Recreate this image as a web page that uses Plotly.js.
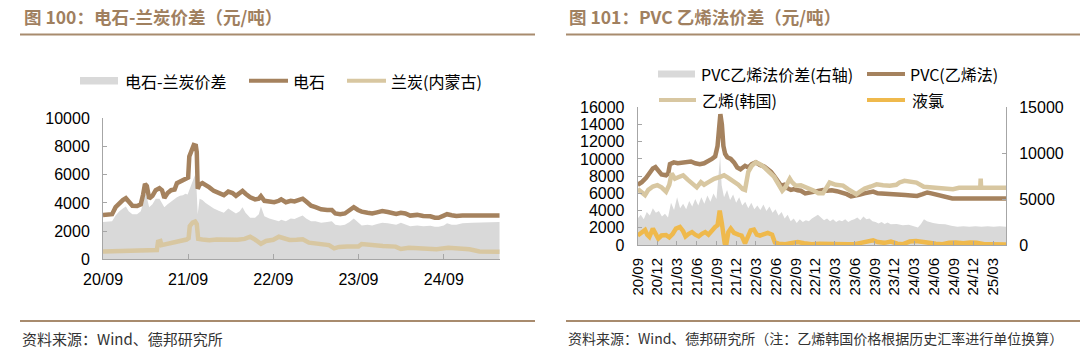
<!DOCTYPE html>
<html>
<head>
<meta charset="utf-8">
<script src="https://cdn.plot.ly/plotly-3.0.1.min.js"></script>
<style>html,body{margin:0;padding:0;background:#fff;}#chart{width:1080px;height:356px;}</style>
</head>
<body>
<div id="chart"></div>
<script>
// ---------- Left chart: 电石-兰炭价差 ----------
const carbideDates = ['2020-09-01','2020-09-20','2020-10-10','2020-10-25','2020-11-10','2020-11-25','2020-12-08','2020-12-20','2021-01-05','2021-01-25','2021-02-10','2021-02-20','2021-02-28','2021-03-08','2021-03-18','2021-04-01','2021-04-15','2021-05-01','2021-05-12','2021-05-22','2021-06-05','2021-06-20','2021-07-05','2021-07-15','2021-07-28','2021-08-10','2021-08-20','2021-09-01','2021-09-06','2021-09-18','2021-09-25','2021-10-04','2021-10-08','2021-10-12','2021-10-20','2021-11-01','2021-11-15','2021-12-01','2021-12-20','2022-01-10','2022-02-01','2022-02-20','2022-03-10','2022-03-25','2022-04-10','2022-04-22','2022-05-05','2022-05-25','2022-06-15','2022-07-01','2022-07-10','2022-07-25','2022-08-15','2022-09-05','2022-09-25','2022-10-05','2022-10-25','2022-11-15','2022-12-01','2022-12-20','2023-01-05','2023-01-20','2023-02-10','2023-03-01','2023-03-25','2023-04-20','2023-05-10','2023-05-25','2023-06-15','2023-07-05','2023-07-25','2023-08-12','2023-08-30','2023-09-15','2023-10-10','2023-10-30','2023-11-20','2023-12-12','2024-01-05','2024-01-25','2024-02-10','2024-03-01','2024-03-20','2024-04-10','2024-05-10','2024-06-05','2024-07-05','2024-07-25','2024-08-10','2024-09-01','2024-09-15','2024-10-05','2024-10-25','2024-11-20','2025-01-01','2025-03-01','2025-04-28'];
const carbideValues = [3150,3150,3200,3700,4000,4200,4330,4100,3800,3780,3900,4600,5350,5200,4300,4500,4900,5050,4900,4350,4700,4900,4950,5400,5500,5650,5700,5800,7300,7700,8100,8050,7600,5000,5300,5400,5300,5100,4850,4700,4550,4800,4700,4500,4650,4850,4650,4400,4250,4300,4480,4150,4100,4050,4150,4250,4050,4150,4100,4200,4300,4100,3800,3700,3550,3500,3500,3250,3200,3250,3450,3700,3500,3380,3300,3250,3330,3420,3350,3300,3220,3300,3250,3100,3150,3070,3050,2950,2950,3100,3200,3130,3070,3100,3100,3100,3100];

const cokeDates = ['2020-09-01','2020-10-15','2020-12-01','2021-01-15','2021-03-01','2021-04-10','2021-04-20','2021-04-25','2021-05-05','2021-05-10','2021-05-25','2021-06-15','2021-07-10','2021-08-01','2021-08-25','2021-09-03','2021-09-08','2021-09-20','2021-10-01','2021-10-08','2021-10-14','2021-11-01','2021-12-01','2022-01-01','2022-02-15','2022-04-01','2022-05-01','2022-05-25','2022-06-15','2022-07-10','2022-08-01','2022-09-01','2022-09-25','2022-10-20','2022-11-10','2022-12-10','2023-01-05','2023-02-01','2023-03-10','2023-04-28','2023-05-20','2023-06-10','2023-07-15','2023-09-01','2023-09-15','2023-10-20','2023-12-15','2024-02-07','2024-03-01','2024-04-05','2024-06-01','2024-08-01','2024-09-20','2024-11-01','2024-12-20','2025-02-01','2025-04-28'];
const cokeValues = [560,580,600,610,620,650,660,1250,1300,1000,1050,1100,1200,1250,1400,1500,2350,2600,2680,2500,1450,1400,1350,1400,1370,1380,1450,1600,1400,1100,1300,1380,1600,1500,1370,1380,1420,1180,1100,1010,780,880,900,900,1080,1000,950,900,730,820,800,710,820,780,710,560,540];

const spreadLDates = ['2020-09-01','2020-09-20','2020-10-10','2020-10-25','2020-11-10','2020-11-25','2020-12-08','2020-12-20','2021-01-05','2021-01-25','2021-02-10','2021-02-20','2021-02-28','2021-03-08','2021-03-18','2021-04-01','2021-04-15','2021-05-01','2021-05-12','2021-05-22','2021-06-05','2021-06-20','2021-07-05','2021-07-15','2021-07-28','2021-08-10','2021-08-20','2021-08-30','2021-09-08','2021-09-15','2021-09-22','2021-10-01','2021-10-06','2021-10-12','2021-10-20','2021-11-01','2021-11-15','2021-12-01','2021-12-20','2022-01-10','2022-02-01','2022-02-20','2022-03-10','2022-03-25','2022-04-10','2022-04-22','2022-05-05','2022-05-25','2022-06-15','2022-07-01','2022-07-10','2022-07-25','2022-08-15','2022-09-05','2022-09-25','2022-10-05','2022-10-25','2022-11-15','2022-12-01','2022-12-20','2023-01-05','2023-01-20','2023-02-10','2023-03-01','2023-03-25','2023-04-20','2023-05-10','2023-05-25','2023-06-15','2023-07-05','2023-07-25','2023-08-12','2023-08-30','2023-09-15','2023-10-10','2023-10-30','2023-11-20','2023-12-12','2024-01-05','2024-01-25','2024-02-10','2024-03-01','2024-03-20','2024-04-10','2024-05-10','2024-06-05','2024-07-05','2024-07-25','2024-08-10','2024-09-01','2024-09-15','2024-10-05','2024-10-25','2024-11-20','2025-01-01','2025-03-01','2025-04-28'];
const spreadLValues = [2650,2700,2700,3100,3400,3600,3750,3400,3200,3200,3400,4000,4700,4400,3700,3900,4300,4300,4000,3700,3900,4100,4300,4400,4500,4550,4650,4600,5000,5300,5600,6000,5400,3200,4300,4200,4000,3800,3600,3450,3300,3600,3400,3250,3400,3700,3300,2950,2950,3200,3750,3050,2900,2800,2700,2800,2700,2900,2850,3000,3100,2900,2700,2700,2600,2650,2700,2450,2400,2450,2650,2900,2600,2400,2450,2400,2500,2600,2550,2500,2450,2600,2500,2350,2400,2350,2380,2300,2300,2400,2550,2450,2450,2550,2600,2650,2650];

const leftTickVals = ['2020-09-01','2021-09-01','2022-09-01','2023-09-01','2024-09-01'];
const leftTickText = ['20/09','21/09','22/09','23/09','24/09'];

// ---------- Right chart: PVC 乙烯法价差 ----------
const pvcDates = ['2020-09-01','2020-09-20','2020-10-10','2020-10-25','2020-11-10','2020-11-22','2020-12-05','2020-12-20','2021-01-10','2021-01-20','2021-01-28','2021-02-15','2021-03-05','2021-03-25','2021-04-15','2021-05-05','2021-05-25','2021-06-15','2021-07-05','2021-07-25','2021-08-10','2021-08-25','2021-09-05','2021-09-12','2021-09-18','2021-09-25','2021-10-02','2021-10-10','2021-10-20','2021-11-05','2021-11-20','2021-12-05','2021-12-20','2022-01-10','2022-01-25','2022-02-10','2022-03-01','2022-03-20','2022-04-10','2022-04-25','2022-05-10','2022-05-25','2022-06-10','2022-06-25','2022-07-10','2022-07-25','2022-08-10','2022-08-25','2022-09-10','2022-09-25','2022-10-15','2022-11-05','2022-11-25','2022-12-15','2023-01-05','2023-01-25','2023-02-15','2023-03-10','2023-04-05','2023-04-25','2023-05-15','2023-06-05','2023-06-25','2023-07-15','2023-08-05','2023-08-25','2023-09-15','2023-10-05','2023-10-30','2023-11-25','2023-12-20','2024-01-20','2024-02-15','2024-03-15','2024-04-10','2024-05-01','2024-05-20','2024-06-15','2024-07-10','2024-07-30','2024-08-25','2024-10-01','2024-12-01','2025-02-01','2025-04-30'];
const pvcValues = [7000,7300,7800,8400,8900,9050,8700,8200,8100,8300,9400,9600,9500,9550,9600,9700,9500,9400,9500,9700,10000,10300,11500,13500,15200,14000,11500,10600,10200,10000,9600,9000,8800,9200,9000,9400,9600,9300,9100,8800,8500,8000,7300,6900,7000,6600,6400,6500,6350,6300,6000,6100,6200,6250,6400,6300,6350,6250,6100,5900,5650,5700,5850,6000,6150,6200,6000,5950,5900,5850,5800,5800,5750,5700,5900,6100,6000,5850,5650,5500,5400,5400,5400,5400,5400];

const ethyDates = ['2020-09-01','2020-09-15','2020-10-05','2020-10-20','2020-11-10','2020-12-01','2020-12-20','2021-01-10','2021-01-25','2021-02-05','2021-02-20','2021-03-10','2021-03-30','2021-04-20','2021-05-10','2021-06-01','2021-06-20','2021-07-05','2021-07-25','2021-08-20','2021-09-15','2021-10-05','2021-10-25','2021-11-15','2021-12-10','2021-12-30','2022-01-10','2022-01-25','2022-02-10','2022-03-01','2022-03-20','2022-04-10','2022-05-01','2022-05-25','2022-06-15','2022-07-01','2022-07-15','2022-08-05','2022-08-15','2022-09-01','2022-09-25','2022-10-20','2022-11-05','2022-11-25','2022-12-15','2023-01-05','2023-01-20','2023-02-05','2023-03-05','2023-04-08','2023-05-01','2023-05-17','2023-06-08','2023-06-25','2023-07-17','2023-08-15','2023-09-10','2023-10-10','2023-11-10','2023-12-10','2023-12-25','2024-01-17','2024-02-15','2024-03-12','2024-04-15','2024-05-15','2024-06-12','2024-07-20','2024-08-28','2024-09-25','2024-11-01','2024-12-15','2025-01-01','2025-01-03','2025-01-05','2025-03-01','2025-04-30'];
const ethyValues = [6500,6200,5800,6400,6800,6950,6700,6200,7000,8300,7700,7900,8100,7600,7200,6700,7300,7000,7300,7700,7900,8100,7800,7500,7000,6500,6400,8500,9200,9600,9400,9000,8500,7900,7000,6300,6700,7700,7300,6900,6950,6700,6600,6300,6000,6000,6600,7250,7000,6900,6500,6200,5900,6200,6550,6800,7050,6950,6880,7000,7270,7460,7300,7250,6760,6700,6640,6600,6490,6640,6600,6640,6640,7700,6640,6640,6640];

const chlorDates = ['2020-09-01','2020-09-20','2020-10-05','2020-10-15','2020-10-25','2020-11-10','2020-11-20','2020-12-05','2020-12-20','2021-01-10','2021-01-25','2021-02-10','2021-02-25','2021-03-15','2021-03-30','2021-04-10','2021-04-25','2021-05-10','2021-05-25','2021-06-10','2021-06-25','2021-07-10','2021-07-25','2021-08-10','2021-08-25','2021-09-05','2021-09-15','2021-09-25','2021-10-02','2021-10-08','2021-10-15','2021-10-25','2021-11-05','2021-11-20','2021-12-10','2021-12-25','2022-01-10','2022-01-20','2022-02-05','2022-02-20','2022-03-05','2022-03-20','2022-04-10','2022-04-25','2022-05-15','2022-05-28','2022-06-15','2022-07-15','2022-08-15','2022-09-10','2022-10-10','2022-11-15','2022-12-20','2023-02-01','2023-03-15','2023-05-01','2023-06-01','2023-07-01','2023-08-01','2023-08-25','2023-09-15','2023-10-15','2023-11-15','2023-12-15','2024-01-10','2024-02-10','2024-03-10','2024-04-10','2024-05-10','2024-06-10','2024-07-10','2024-08-10','2024-09-10','2024-10-15','2024-11-15','2024-12-15','2025-01-20','2025-03-01','2025-04-30'];
const chlorValues = [1100,1500,1750,1200,950,1900,1500,750,1100,1150,900,1300,1900,2100,1600,1000,1300,1500,1200,1000,1300,1500,1200,1700,2100,2300,4000,2500,1500,200,0,1500,1900,1400,1200,1100,200,900,1700,1800,1200,1100,1200,1400,1200,300,150,100,250,350,200,100,150,100,100,80,100,250,400,550,350,250,400,150,100,400,450,400,250,150,100,250,300,200,300,250,100,100,50];

const spreadRDates = ['2020-09-01','2020-09-15','2020-09-29','2020-10-13','2020-10-27','2020-11-10','2020-11-24','2020-12-08','2020-12-22','2021-01-05','2021-01-19','2021-02-02','2021-02-16','2021-03-02','2021-03-16','2021-03-30','2021-04-13','2021-04-27','2021-05-11','2021-05-25','2021-06-08','2021-06-22','2021-07-06','2021-07-20','2021-08-03','2021-08-17','2021-08-31','2021-09-10','2021-09-17','2021-09-24','2021-10-05','2021-10-19','2021-11-02','2021-11-16','2021-11-30','2021-12-14','2021-12-28','2022-01-11','2022-01-25','2022-02-08','2022-02-22','2022-03-08','2022-03-22','2022-04-05','2022-04-19','2022-05-03','2022-05-17','2022-05-31','2022-06-14','2022-06-28','2022-07-12','2022-07-26','2022-08-09','2022-08-23','2022-09-06','2022-09-20','2022-10-04','2022-10-18','2022-11-01','2022-11-15','2022-11-29','2022-12-13','2022-12-27','2023-01-10','2023-01-24','2023-02-07','2023-02-21','2023-03-07','2023-03-21','2023-04-04','2023-04-18','2023-05-02','2023-05-16','2023-05-30','2023-06-13','2023-06-27','2023-07-11','2023-07-25','2023-08-08','2023-08-22','2023-09-05','2023-09-19','2023-10-03','2023-10-17','2023-10-31','2023-11-14','2023-12-12','2024-01-09','2024-02-06','2024-03-05','2024-03-19','2024-04-02','2024-04-16','2024-04-30','2024-05-14','2024-05-28','2024-06-25','2024-07-23','2024-08-20','2024-09-17','2024-10-15','2024-11-12','2024-12-10','2025-01-07','2025-02-04','2025-03-04','2025-04-01','2025-04-30'];
const spreadRValues = [2900,3300,2800,3600,3200,4000,3500,3700,3100,3400,3000,4600,3800,5200,4000,4500,3900,4800,4200,5000,4300,5200,4500,5400,4700,5600,5000,7500,9700,6500,5200,6000,4900,5500,4600,5200,4300,4700,4000,4600,3900,4300,3800,4400,3700,4200,3500,3900,3200,3600,2900,3300,2600,2900,2400,2800,2500,2700,2600,2900,3100,3300,3000,2700,2900,2600,2800,2500,2700,2600,2800,2500,2700,2800,3000,2700,3100,2800,2900,2600,2500,2350,2500,2300,2450,2250,2300,2150,2200,2050,1900,2300,2800,2600,2500,2400,2300,2250,2100,2000,2050,2000,2050,2000,2050,2000,2050,2000];

// ---------- Style ----------
const BROWN = '#a5825e', TAN = '#d8c7a1', GOLD = '#efb94c', GRAY = '#d9d9d9';
const AXIS = '#a6a6a6', RULE = '#a88b6e', TITLE = '#a0805f';
const NUM = 'Liberation Sans, Arial, sans-serif';
const CJK = 'Noto Sans CJK SC, sans-serif';
const W = 1080, H = 356;
const px = x => x / W, py = y => 1 - y / H;

const traces = [
  {x: spreadLDates, y: spreadLValues, type: 'scatter', mode: 'lines', fill: 'tozeroy', fillcolor: GRAY, line: {width: 0, color: GRAY}, xaxis: 'x', yaxis: 'y', name: '电石-兰炭价差', showlegend: false},
  {x: carbideDates, y: carbideValues, type: 'scatter', mode: 'lines', line: {width: 4.5, color: BROWN}, xaxis: 'x', yaxis: 'y', name: '电石', showlegend: false},
  {x: cokeDates, y: cokeValues, type: 'scatter', mode: 'lines', line: {width: 4.5, color: TAN}, xaxis: 'x', yaxis: 'y', name: '兰炭(内蒙古)', showlegend: false},
  {x: spreadRDates, y: spreadRValues, type: 'scatter', mode: 'lines', fill: 'tozeroy', fillcolor: GRAY, line: {width: 0, color: GRAY}, xaxis: 'x2', yaxis: 'y2', name: 'PVC乙烯法价差(右轴)', showlegend: false},
  {x: pvcDates, y: pvcValues, type: 'scatter', mode: 'lines', line: {width: 4.5, color: BROWN}, xaxis: 'x2', yaxis: 'y3', name: 'PVC(乙烯法)', showlegend: false},
  {x: ethyDates, y: ethyValues, type: 'scatter', mode: 'lines', line: {width: 4.5, color: TAN}, xaxis: 'x2', yaxis: 'y3', name: '乙烯(韩国)', showlegend: false},
  {x: chlorDates, y: chlorValues, type: 'scatter', mode: 'lines', line: {width: 4.5, color: GOLD}, xaxis: 'x2', yaxis: 'y3', name: '液氯', showlegend: false}
];

const axisCommon = {showgrid: false, zeroline: false, showline: true, linecolor: AXIS, linewidth: 1, ticks: 'inside', ticklen: 4, tickcolor: AXIS, tickfont: {family: NUM, size: 16, color: '#000'}, fixedrange: true};

const layout = {
  width: W, height: H,
  margin: {l: 0, r: 0, t: 0, b: 0},
  paper_bgcolor: '#fff', plot_bgcolor: 'rgba(0,0,0,0)',
  showlegend: false,
  xaxis: Object.assign({}, axisCommon, {type: 'date', domain: [px(103), px(500)], range: ['2020-09-01', '2025-04-30'], tickvals: leftTickVals, ticktext: leftTickText, ticklen: 5, anchor: 'y', ticklabelstandoff: 5}),
  yaxis: Object.assign({}, axisCommon, {domain: [py(259.3), py(118.3)], range: [0, 10000], dtick: 2000, tickformat: 'd', anchor: 'x', ticklabelstandoff: 9}),
  xaxis2: Object.assign({}, axisCommon, {type: 'date', domain: [px(637.7), px(1006)], range: ['2020-09-01', '2025-04-30'], dtick: 'M3', tick0: '2020-09-01', tickformat: '%y/%m', tickangle: -90, anchor: 'y2', ticklabelstandoff: 6, tickfont: {family: NUM, size: 15, color: '#000'}}),
  yaxis2: Object.assign({}, axisCommon, {domain: [py(245), py(107.3)], range: [0, 15000], dtick: 5000, tickformat: 'd', side: 'right', anchor: 'x2', ticklabelstandoff: 9}),
  yaxis3: Object.assign({}, axisCommon, {domain: [py(245), py(107.3)], range: [0, 16000], dtick: 2000, tickformat: 'd', overlaying: 'y2', side: 'left', anchor: 'x2', ticklabelstandoff: 9}),
  shapes: [
    {type: 'line', xref: 'paper', yref: 'paper', x0: px(20), x1: px(535), y0: py(34.5), y1: py(34.5), line: {color: RULE, width: 2}},
    {type: 'line', xref: 'paper', yref: 'paper', x0: px(566), x1: px(1080), y0: py(34.5), y1: py(34.5), line: {color: RULE, width: 2}},
    {type: 'line', xref: 'paper', yref: 'paper', x0: px(20), x1: px(535), y0: py(321), y1: py(321), line: {color: RULE, width: 2}},
    {type: 'line', xref: 'paper', yref: 'paper', x0: px(566), x1: px(1080), y0: py(321), y1: py(321), line: {color: RULE, width: 2}},
    {type: 'rect', xref: 'paper', yref: 'paper', x0: px(80), x1: px(118), y0: py(84.5), y1: py(77), fillcolor: GRAY, line: {width: 0}},
    {type: 'line', xref: 'paper', yref: 'paper', x0: px(249), x1: px(288), y0: py(80.7), y1: py(80.7), line: {color: BROWN, width: 4}},
    {type: 'line', xref: 'paper', yref: 'paper', x0: px(347), x1: px(386), y0: py(80.7), y1: py(80.7), line: {color: TAN, width: 4}},
    {type: 'rect', xref: 'paper', yref: 'paper', x0: px(658), x1: px(695), y0: py(77.5), y1: py(70.5), fillcolor: GRAY, line: {width: 0}},
    {type: 'line', xref: 'paper', yref: 'paper', x0: px(867), x1: px(905), y0: py(74), y1: py(74), line: {color: BROWN, width: 4}},
    {type: 'line', xref: 'paper', yref: 'paper', x0: px(659), x1: px(696), y0: py(100), y1: py(100), line: {color: TAN, width: 4}},
    {type: 'line', xref: 'paper', yref: 'paper', x0: px(867), x1: px(905), y0: py(100), y1: py(100), line: {color: GOLD, width: 4}}
  ],
  annotations: [
    {text: '<b>图 100：电石-兰炭价差（元/吨）</b>', x: px(22), y: py(17), xref: 'paper', yref: 'paper', xanchor: 'left', yanchor: 'middle', showarrow: false, font: {family: CJK, size: 17.5, color: TITLE}},
    {text: '<b>图 101：PVC 乙烯法价差（元/吨）</b>', x: px(567), y: py(17), xref: 'paper', yref: 'paper', xanchor: 'left', yanchor: 'middle', showarrow: false, font: {family: CJK, size: 17.5, color: TITLE}},
    {text: '电石-兰炭价差', x: px(123), y: py(80.7), xref: 'paper', yref: 'paper', xanchor: 'left', yanchor: 'middle', showarrow: false, font: {family: CJK, size: 16, color: '#000'}},
    {text: '电石', x: px(291), y: py(80.7), xref: 'paper', yref: 'paper', xanchor: 'left', yanchor: 'middle', showarrow: false, font: {family: CJK, size: 16, color: '#000'}},
    {text: '兰炭(内蒙古)', x: px(389), y: py(80.7), xref: 'paper', yref: 'paper', xanchor: 'left', yanchor: 'middle', showarrow: false, font: {family: CJK, size: 16, color: '#000'}},
    {text: 'PVC乙烯法价差(右轴)', x: px(699), y: py(74), xref: 'paper', yref: 'paper', xanchor: 'left', yanchor: 'middle', showarrow: false, font: {family: CJK, size: 16, color: '#000'}},
    {text: 'PVC(乙烯法)', x: px(908), y: py(74), xref: 'paper', yref: 'paper', xanchor: 'left', yanchor: 'middle', showarrow: false, font: {family: CJK, size: 16, color: '#000'}},
    {text: '乙烯(韩国)', x: px(700), y: py(100), xref: 'paper', yref: 'paper', xanchor: 'left', yanchor: 'middle', showarrow: false, font: {family: CJK, size: 16, color: '#000'}},
    {text: '液氯', x: px(910), y: py(100), xref: 'paper', yref: 'paper', xanchor: 'left', yanchor: 'middle', showarrow: false, font: {family: CJK, size: 16, color: '#000'}},
    {text: '资料来源：Wind、德邦研究所', x: px(20), y: py(338), xref: 'paper', yref: 'paper', xanchor: 'left', yanchor: 'middle', showarrow: false, font: {family: CJK, size: 15, color: '#333'}},
    {text: '资料来源：Wind、德邦研究所（注：乙烯韩国价格根据历史汇率进行单位换算）', x: px(566), y: py(338), xref: 'paper', yref: 'paper', xanchor: 'left', yanchor: 'middle', showarrow: false, font: {family: CJK, size: 14, color: '#333'}}
  ]
};

Plotly.newPlot('chart', traces, layout, {displayModeBar: false, staticPlot: true});
</script>
</body>
</html>
